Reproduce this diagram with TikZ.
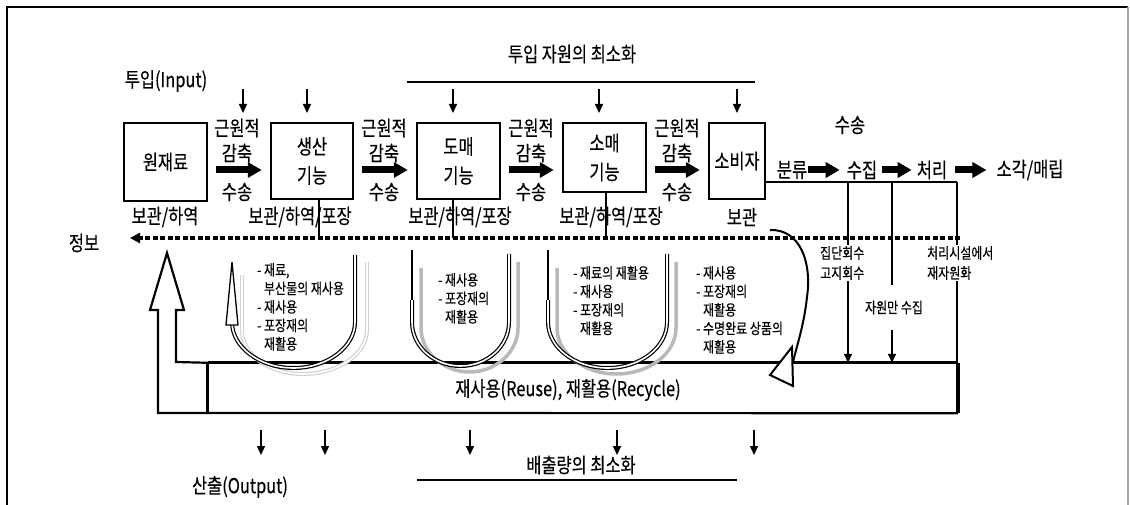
\documentclass[tikz,border=0pt]{standalone}
\usepackage{fontspec}
\setmainfont{Noto Sans CJK KR}[FakeStretch=0.8, FakeBold=0.3]
\usetikzlibrary{arrows.meta}
\begin{document}
\begin{tikzpicture}[x=1pt,y=-1pt,
  every node/.style={inner sep=1pt},
  big/.style={font=\fontsize{20.5}{29}\selectfont, align=center},
  small/.style={font=\fontsize{15}{18.5}\selectfont, align=left},
  box/.style={draw, line width=2.5pt, big},
  fat/.style={line width=7pt,-{Triangle[length=14pt,width=15pt]}},
  dn/.style={line width=1.5pt,-{Triangle[length=9pt,width=8pt]}},
  thinl/.style={line width=1.5pt},
  ushape/.style={line width=1.2pt, double=white, double distance=1.6pt},
  ushadow/.style={line width=3.5pt, draw=gray!55},
]
\useasboundingbox (0,0) rectangle (1130,505);
% frame
\draw[line width=1.8pt] (7,510) -- (7,7) -- (1128,7);
\draw[line width=1.5pt, gray!70] (1128,7) -- (1128,510);

% titles
\node[big] (inp) at (166,81) {투입(Input)};
\node[big] (topt) at (572,54) {투입 자원의 최소화};
\draw[thinl] (407,82) -- (755,82);
\foreach \x in {243,307,453,599,737} \draw[dn] (\x,89) -- (\x,113);

% boxes
\node[box, minimum width=83pt, minimum height=78pt] (raw) at (165.5,162) {원재료};
\node[box, minimum width=82pt, minimum height=76pt] (prod) at (312,161) {생산\\기능};
\node[box, minimum width=83pt, minimum height=76pt] (whole) at (458.5,161) {도매\\기능};
\node[box, minimum width=83pt, minimum height=69pt] (retail) at (604.5,157.5) {소매\\기능};
\node[box, minimum width=56pt, minimum height=76pt] (cons) at (737,161) {소비자};

\coordinate (row) at (0,170);
\foreach \x/\n in {237/1,384/2,531/3,677/4} {
  \node[big] (ra\n) at (\x,128) {근원적};
  \node[big] (rb\n) at (\x,153) {감축};
  \node[big] (tr\n) at (\x,192) {수송};
}
\draw[fat, shorten <=8pt, shorten >=8pt] (raw.east |- row) -- (prod.west |- row);
\draw[fat, shorten <=8pt, shorten >=8pt] (prod.east |- row) -- (whole.west |- row);
\draw[fat, shorten <=8pt, shorten >=8pt] (whole.east |- row) -- (retail.west |- row);
\draw[fat, shorten <=8pt, shorten >=8pt] (retail.east |- row) -- (cons.west |- row);

% storage labels
\node[big] (s1) at (165,217) {보관/하역};
\node[big] (s2) at (300,217) {보관/하역/포장};
\node[big] (s3) at (460,217) {보관/하역/포장};
\node[big] (s4) at (611,217) {보관/하역/포장};
\node[big] (s5) at (742,217) {보관};

% right chain
\node[big] (sus) at (850,125) {수송};
\node[big] (bun) at (792,170) {분류};
\node[big] (suj) at (862,170) {수집};
\node[big] (che) at (932,170) {처리};
\node[big] (sog) at (1030,170) {소각/매립};
\draw[fat, shorten >=6pt] (bun.east) -- (suj.west);
\draw[fat, shorten <=4pt, shorten >=4pt] (suj.east) -- (che.west);
\draw[fat, shorten <=7pt, shorten >=9pt] (che.east) -- (sog.west);

% reuse box
\node[minimum width=750pt, minimum height=50pt, inner sep=0pt] (reuse) at (583,388) {};
\node[big] (reuseLbl) at (568,390) {재사용(Reuse), 재활용(Recycle)};
\draw[line width=3pt] (reuse.north west) -- (reuse.north east);
\draw[line width=4pt] (reuse.north east) -- (reuse.south east);
\draw[line width=3pt] (reuse.north west) -- (reuse.south west);
\draw[line width=2.2pt, line join=miter] (reuse.south east) -- (158,413) -- (158,310) -- (150,310) -- (167,253) -- (184,310) -- (176,310) -- (176,362) -- (reuse.north west);

% vertical lines from boxes to info line
\coordinate (p1) at (319,238);
\coordinate (p2) at (453,238);
\coordinate (p3) at (606,238);
\draw[thinl] (p1 |- prod.south) -- (p1);
\draw[thinl] (p2 |- whole.south) -- (p2);
\draw[thinl] (p3 |- retail.south) -- (p3);

% right collection network
\coordinate (h0) at (765,182);
\coordinate (h1) at (957,182);
\coordinate (v1) at (848,182);
\coordinate (v2) at (892,182);
\coordinate (v3) at (957,182);
\draw[thinl] (cons.east |- h0) -- (h1);
\node[small, minimum height=44pt] (jawon) at (894,307.5) {자원만 수집};
\draw[dn] (v1) -- (v1 |- reuse.north);
\draw[thinl] (v2) -- (v2 |- jawon.north);
\draw[dn] (v2 |- jawon.south) -- (v2 |- reuse.north);
\draw[thinl] (v3) -- (v3 |- reuse.north);

% info dashed line
\coordinate (dashR) at (960,238);
\coordinate (dashL) at (130,238);
\draw[line width=3.5pt, dash pattern=on 5pt off 2.5pt, -{Triangle[length=10pt,width=10pt]}] (dashR) -- (dashL);
\node[big] (info) at (84,243) {정보};

\node[small, fill=white, anchor=west, font=\fontsize{15}{20}\selectfont] (jip) at (819,263) {집단회수\\고지회수};
\node[small, fill=white, anchor=west, font=\fontsize{15}{20}\selectfont] (chs) at (926,263) {처리시설에서\\재자원화};

% consumer return curve
\coordinate (cs) at (770,230);
\coordinate (ce) at (793,362);
\draw[line width=2pt] (cs) .. controls (800,229) and (812,262) .. (807,297) .. controls (804,325) and (797,345) .. (ce);
\draw[line width=2pt, fill=white, line join=miter] (770,375) -- (792,347) -- (793,386) -- cycle;

% U shapes: shadows
\draw[line width=1.2pt, double=white, double distance=1.6pt, draw=gray!35] (242,275) -- (242,330) .. controls (242,354) and (268,374) .. (303,374) .. controls (338,374) and (367,354) .. (367,330) -- (367,262);
\draw[ushadow] (421,268) -- (421,328) .. controls (421,352) and (443,372) .. (469.5,372) .. controls (496,372) and (518,352) .. (518,328) -- (518,262);
\draw[ushadow] (557,268) -- (557,328) .. controls (557,353.4) and (583.7,374) .. (616.5,374) .. controls (649.3,374) and (676,353.4) .. (676,328) -- (676,262);

% U shapes
\draw[ushape] (232,322) .. controls (232,347) and (259.5,368) .. (293.5,368) .. controls (327.5,368) and (355,347) .. (355,322) -- (355,255);
\draw[line width=1.3pt, fill=white, line join=miter] (226,325) -- (232,262) -- (238,325) -- cycle;
\draw[line width=2pt] (412,250) -- (412,300);
\draw[ushape] (412,300) -- (412,322) .. controls (412,346.3) and (433.7,366) .. (460.5,366) .. controls (487.3,366) and (509,346.3) .. (509,322) -- (509,254);
\draw[line width=2pt] (548,250) -- (548,300);
\draw[ushape] (548,300) -- (548,322) .. controls (548,347.4) and (574.7,368) .. (607.5,368) .. controls (640.3,368) and (667,347.4) .. (667,322) -- (667,254);

% U texts (base = baseline of last line)
\node[small, anchor=base west] (u1t) at (256,349.5) {- 재료,\\\hphantom{- }부산물의 재사용\\- 재사용\\- 포장재의\\\hphantom{- }재활용};
\node[small, anchor=base west] (u2t) at (437,322.5) {- 재사용\\- 포장재의\\\hphantom{- }재활용};
\node[small, anchor=base west] (u3t) at (572,334) {- 재료의 재활용\\- 재사용\\- 포장재의\\\hphantom{- }재활용};
\node[small, anchor=base west] (u4t) at (695,352.5) {- 재사용\\- 포장재의\\\hphantom{- }재활용\\- 수명완료 상품의\\\hphantom{- }재활용};

% outputs
\foreach \x in {261,325,470,617,754} \draw[dn] (\x,430) -- (\x,455);
\node[big] (outp) at (240,487) {산출(Output)};
\node[big] (emis) at (581,465) {배출량의 최소화};
\draw[thinl] (417,480) -- (737,480);
\end{tikzpicture}
\end{document}
